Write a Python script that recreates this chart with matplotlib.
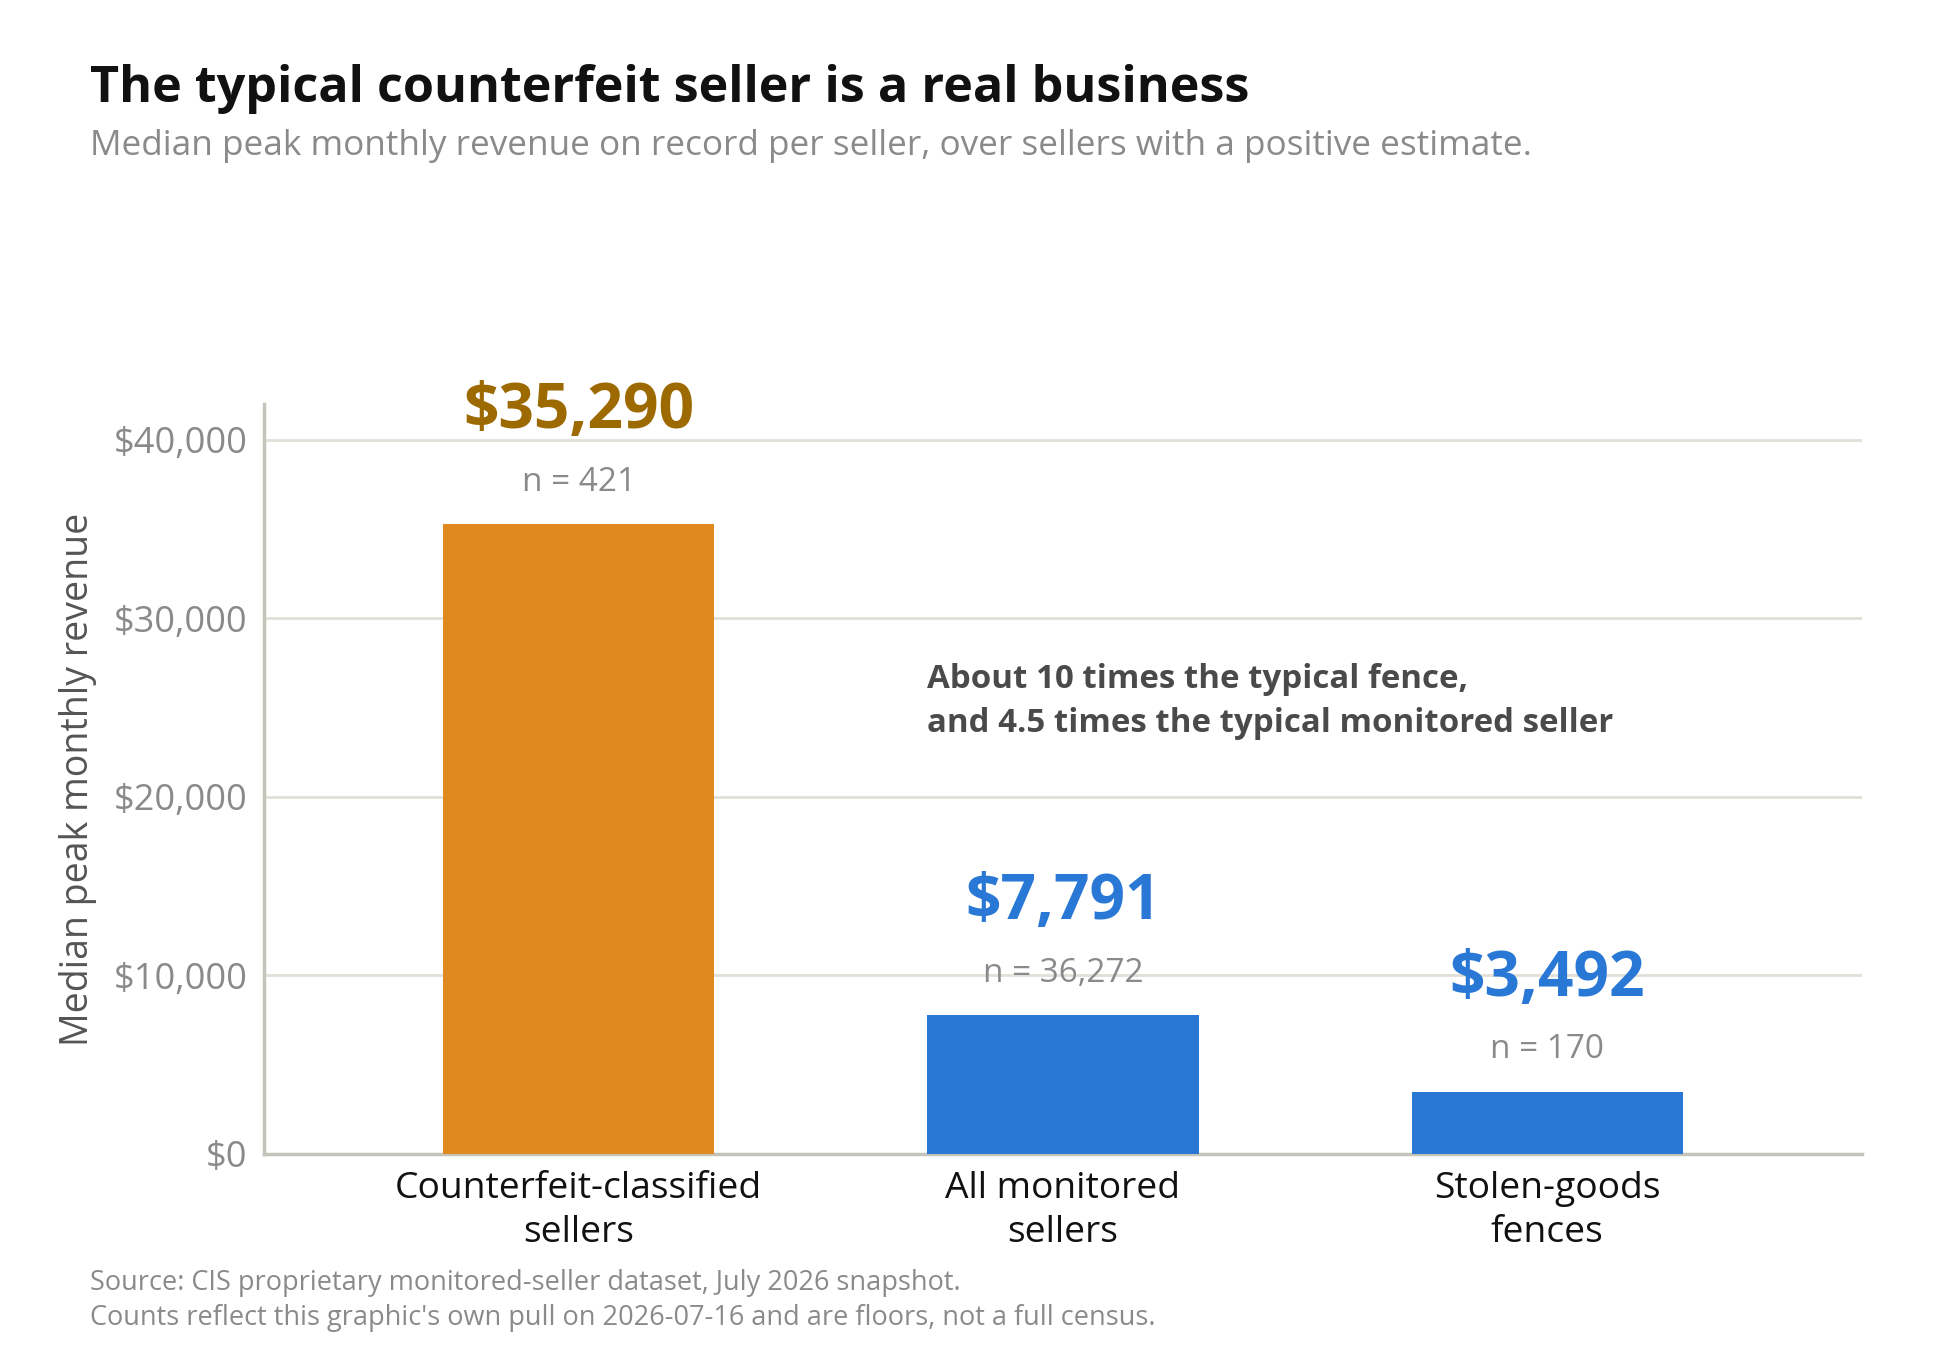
import matplotlib
matplotlib.use("Agg")
import matplotlib.pyplot as plt

categories = ["Counterfeit-classified\nsellers", "All monitored\nsellers", "Stolen-goods\nfences"]
values = [35290, 7791, 3492]
counts = [421, 36272, 170]
yticks = [0, 10000, 20000, 30000, 40000]

bar_colors = ["#E0891E", "#2A78D6", "#2A78D6"]
label_colors = ["#9C6A00", "#2A78D6", "#2A78D6"]

plt.rcParams['font.family'] = ['Open Sans', 'DejaVu Sans']

fig = plt.figure(figsize=(19.5, 13.5), dpi=100)
ax = fig.add_axes([0.1354, 0.1452, 0.8195, 0.5555])

x = list(range(len(categories)))
ax.bar(x, values, width=0.56, color=bar_colors, zorder=3)
ax.set_xlim(-0.65, 2.65)
ax.set_ylim(0, 42000)
ax.set_yticks(yticks)
ax.set_yticklabels([f"${v:,.0f}" for v in yticks])
ax.set_xticks(x)
ax.set_xticklabels(categories, fontsize=26.8, color="#111111", linespacing=1.3)
ax.tick_params(axis='y', labelsize=26, labelcolor="#8a8a8a", length=0, pad=12)
ax.tick_params(axis='x', length=0, pad=12)
ax.grid(axis='y', color="#e0e0d8", linewidth=2, zorder=0)
for s in ["top", "right"]:
    ax.spines[s].set_visible(False)
for s in ["left", "bottom"]:
    ax.spines[s].set_color("#c4c4ba")
    ax.spines[s].set_linewidth(2.5)
ax.set_ylabel("Median peak monthly revenue", fontsize=27, color="#555555", labelpad=12)

for xi, v, n, c in zip(x, values, counts, label_colors):
    ax.annotate(f"${v:,.0f}", (xi, v), xytext=(0, 81), textcoords="offset points",
                ha="center", va="center", fontsize=44.8, fontweight="bold", color=c)
    ax.annotate(f"n = {n:,}", (xi, v), xytext=(0, 30), textcoords="offset points",
                ha="center", va="center", fontsize=24, color="#8a8a8a")

ax.text(0.72, 25350, "About 10 times the typical fence,\nand 4.5 times the typical monitored seller",
        ha="left", va="center", fontsize=23.8, fontweight="bold", color="#4a4a4a", linespacing=1.45)

fig.text(90/1950, 1 - 102/1350, "The typical counterfeit seller is a real business",
         ha="left", va="baseline", fontsize=36.3, fontweight="bold", color="#111111")
fig.text(90/1950, 1 - 146/1350, "Median peak monthly revenue on record per seller, over sellers with a positive estimate.",
         ha="left", va="center", fontsize=25.3, color="#8a8a8a")
fig.text(90/1950, 1 - 1283/1350, "Source: CIS proprietary monitored-seller dataset, July 2026 snapshot.",
         ha="left", va="center", fontsize=19.5, color="#8a8a8a")
fig.text(90/1950, 1 - 1318/1350, "Counts reflect this graphic's own pull on 2026-07-16 and are floors, not a full census.",
         ha="left", va="center", fontsize=19.5, color="#8a8a8a")

fig.savefig("out.png", dpi=100)
